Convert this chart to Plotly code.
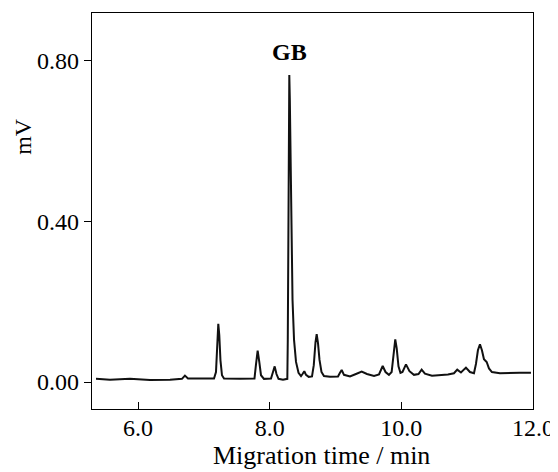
import plotly.graph_objects as go

# Migration time (min) and detector signal (mV)
time_min = [5.361, 5.573, 5.877, 6.181, 6.485, 6.667, 6.712, 6.758, 6.941, 7.154,
            7.184, 7.204, 7.219, 7.234, 7.252, 7.275, 7.306, 7.549, 7.769, 7.791,
            7.817, 7.842, 7.868, 7.913, 8.020, 8.050, 8.076, 8.103, 8.134, 8.202,
            8.268, 8.275, 8.283, 8.290, 8.298, 8.306, 8.318, 8.332, 8.347, 8.370,
            8.400, 8.438, 8.476, 8.499, 8.526, 8.552, 8.593, 8.643, 8.670, 8.696,
            8.714, 8.734, 8.757, 8.787, 8.825, 8.916, 9.038, 9.068, 9.094, 9.129,
            9.220, 9.311, 9.398, 9.478, 9.585, 9.661, 9.717, 9.760, 9.812, 9.853,
            9.881, 9.908, 9.930, 9.957, 9.987, 10.018, 10.071, 10.124, 10.192, 10.261,
            10.309, 10.359, 10.466, 10.587, 10.709, 10.800, 10.850, 10.906, 10.982, 11.043,
            11.104, 11.134, 11.164, 11.195, 11.225, 11.256, 11.297, 11.332, 11.377, 11.499,
            11.651, 11.803, 11.970]
signal_mv = [0.008, 0.006, 0.008, 0.005, 0.006, 0.008, 0.016, 0.009, 0.009, 0.009,
             0.025, 0.092, 0.145, 0.117, 0.054, 0.017, 0.009, 0.008, 0.009, 0.043,
             0.078, 0.050, 0.017, 0.008, 0.009, 0.025, 0.039, 0.020, 0.008, 0.006,
             0.008, 0.105, 0.346, 0.577, 0.764, 0.702, 0.503, 0.328, 0.204, 0.105,
             0.050, 0.023, 0.015, 0.020, 0.027, 0.018, 0.013, 0.014, 0.042, 0.099,
             0.119, 0.097, 0.055, 0.025, 0.015, 0.013, 0.014, 0.023, 0.030, 0.018,
             0.014, 0.020, 0.026, 0.020, 0.015, 0.019, 0.040, 0.025, 0.018, 0.025,
             0.067, 0.106, 0.084, 0.039, 0.023, 0.025, 0.044, 0.027, 0.018, 0.020,
             0.031, 0.021, 0.016, 0.017, 0.019, 0.022, 0.031, 0.024, 0.036, 0.025,
             0.022, 0.045, 0.079, 0.094, 0.079, 0.057, 0.050, 0.034, 0.025, 0.022,
             0.023, 0.023, 0.023]

x_ticks = [6.0, 8.0, 10.0, 12.0]
x_tick_labels = ["6.0", "8.0", "10.0", "12.0"]
y_ticks = [0.0, 0.4, 0.8]
y_tick_labels = ["0.00", "0.40", "0.80"]

peak_label = "GB"
peak_time = 8.298
peak_label_y = 0.821

FONT = "Liberation Serif"

fig = go.Figure()
fig.add_trace(go.Scatter(x=time_min, y=signal_mv, mode="lines",
                         line=dict(color="#111111", width=2.0), showlegend=False,
                         hoverinfo="skip"))

fig.add_annotation(x=peak_time, y=peak_label_y, xref="x", yref="y", text="<b>%s</b>" % peak_label,
                   showarrow=False, font=dict(family=FONT, size=24, color="black"),
                   xanchor="center", yanchor="middle")
fig.add_annotation(x=0.5215, y=-0.1566, xref="paper", yref="paper", text="Migration time / min",
                   showarrow=False, font=dict(family=FONT, size=26, color="black"),
                   xanchor="center", yanchor="bottom", borderpad=0)
fig.add_annotation(x=-0.155, y=0.689, xref="paper", yref="paper", text="mV", textangle=-90,
                   showarrow=False, font=dict(family=FONT, size=24, color="black"),
                   xanchor="center", yanchor="middle", borderpad=0)

# page body adds an 8px offset, so the figure is 8px smaller and margins shifted
fig.update_layout(
    width=550, height=464,
    margin=dict(l=84, r=25, t=5, b=63, autoexpand=False),
    paper_bgcolor="white", plot_bgcolor="white",
    font=dict(family=FONT, size=24, color="black"),
    xaxis=dict(range=[5.3, 12.001], tickvals=x_ticks, ticktext=x_tick_labels,
               ticks="inside", ticklen=7, tickwidth=1.2, tickcolor="black",
               showline=True, linecolor="black", linewidth=1.3, mirror=True,
               showgrid=False, zeroline=False, automargin=False,
               ticklabelstandoff=-3,
               tickfont=dict(family=FONT, size=24)),
    yaxis=dict(range=[-0.067, 0.918], tickvals=y_ticks, ticktext=y_tick_labels,
               ticks="outside", ticklen=7, tickwidth=1.2, tickcolor="black",
               showline=True, linecolor="black", linewidth=1.3, mirror=True,
               showgrid=False, zeroline=False, automargin=False,
               tickfont=dict(family=FONT, size=24)),
)

fig.write_html("out.html")
